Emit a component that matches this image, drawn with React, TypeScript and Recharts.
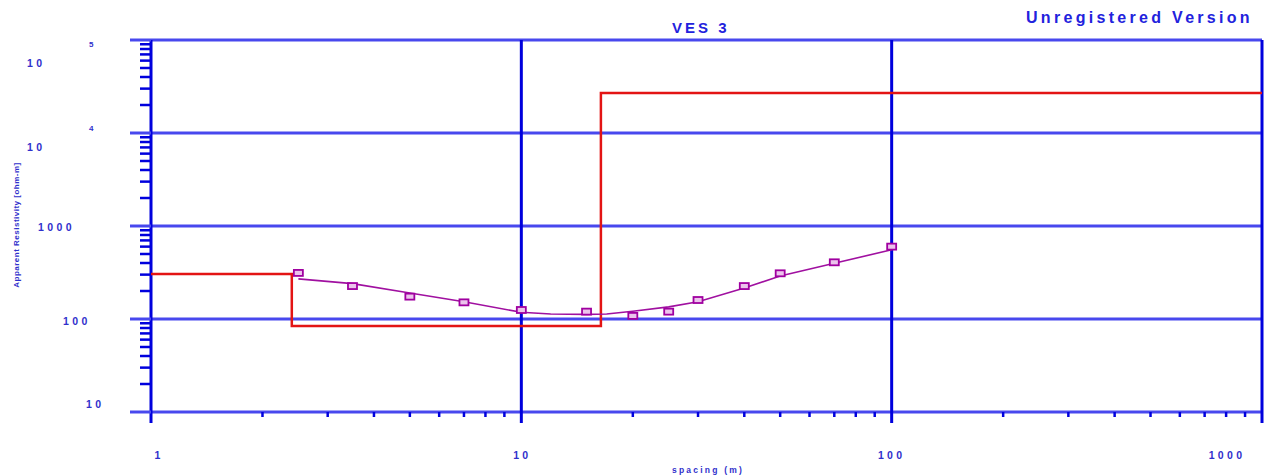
import React from 'react';
import { ComposedChart, Line, Scatter, XAxis, YAxis, ReferenceLine } from 'recharts';

// ---- data ----
const layerRho = [305, 84, 27000];
const layerBoundaries = [2.4, 16.4];

const fieldSpacing = [2.5, 3.5, 5, 7, 10, 15, 20, 25, 30, 40, 50, 70, 100];
const fieldRho = [313, 226, 174, 151, 125, 120, 108, 120, 160, 226, 310, 407, 600];

const calcSpacing = [2.5, 3.5, 5, 7, 10, 12, 15, 17, 20, 25, 30, 40, 50, 70, 100];
const calcRho = [270, 240, 190, 153, 118, 113, 112, 113, 121, 135, 153, 215, 290, 398, 555];

const xDecades = [1, 10, 100, 1000];
const xTickLabels = ['1', '10', '100', '1000'];
const yDecades = [10, 100, 1000, 10000, 100000];
const yTickBase = ['10', '100', '1000', '10', '10'];
const yTickExp = ['', '', '', '4', '5'];
const minorMultipliers = [2, 3, 4, 5, 6, 7, 8, 9];

const xRange = [1, 1000];
const yRange = [10, 100000];

// ---- derived tables ----
const modelPoints: { x: number; y: number }[] = [];
layerRho.forEach((rho, i) => {
  const from = i === 0 ? xRange[0] : layerBoundaries[i - 1];
  const to = i < layerBoundaries.length ? layerBoundaries[i] : xRange[1];
  modelPoints.push({ x: from, y: rho });
  modelPoints.push({ x: to, y: rho });
});
const fieldPoints = fieldSpacing.map((x, i) => ({ x, y: fieldRho[i] }));
const calcPoints = calcSpacing.map((x, i) => ({ x, y: calcRho[i] }));

const xTicks: number[] = [];
xDecades.forEach((d, i) => {
  xTicks.push(d);
  if (i < xDecades.length - 1) minorMultipliers.forEach((m) => xTicks.push(d * m));
});
const yTicks: number[] = [];
yDecades.forEach((d, i) => {
  yTicks.push(d);
  if (i < yDecades.length - 1) minorMultipliers.forEach((m) => yTicks.push(d * m));
});

// ---- styles ----
const AXIS_BLUE = '#0000dd';
const GRID_BLUE = '#4848ee';
const LABEL_BLUE = '#3030cc';
const FONT = 'Arial, "Liberation Sans", sans-serif';

const X_LABEL_SHIFT: Record<number, number> = { 1: 8, 10: 1, 100: 0, 1000: -35 };
const Y_LABEL_POS: Record<number, { x: number; dy: number; sx?: number; sdy?: number }> = {
  10: { x: 86, dy: -8 },
  100: { x: 63, dy: 2 },
  1000: { x: 38, dy: 1 },
  10000: { x: 27, dy: 14, sx: 89, sdy: -5 },
  100000: { x: 27, dy: 23, sx: 89, sdy: 4 },
};

function XTick(props: any) {
  const { x, y, payload } = props;
  const v = payload.value;
  const i = xDecades.indexOf(v);
  const major = i >= 0;
  return (
    <g>
      <line x1={x} x2={x} y1={y} y2={y + (major ? 11 : 5)} stroke={AXIS_BLUE} strokeWidth={major ? 3 : 2.5} />
      {major && (
        <text
          x={x + X_LABEL_SHIFT[v]}
          y={y + 47}
          textAnchor="middle"
          fontFamily={FONT}
          fontSize={10.5}
          fontWeight="bold"
          letterSpacing={3.3}
          fill={LABEL_BLUE}
        >
          {xTickLabels[i]}
        </text>
      )}
    </g>
  );
}

function YTick(props: any) {
  const { x, y, payload } = props;
  const v = payload.value;
  const i = yDecades.indexOf(v);
  const major = i >= 0;
  const pos = Y_LABEL_POS[v];
  return (
    <g>
      <line
        x1={x - (major ? 21 : 11)}
        x2={x}
        y1={y}
        y2={y}
        stroke={major ? GRID_BLUE : AXIS_BLUE}
        strokeWidth={major ? 3 : 2.5}
      />
      {major && (
        <text
          x={pos.x}
          y={y + pos.dy + 4}
          textAnchor="start"
          fontFamily={FONT}
          fontSize={10.5}
          fontWeight="bold"
          letterSpacing={3.4}
          fill={LABEL_BLUE}
        >
          {yTickBase[i]}
        </text>
      )}
      {major && yTickExp[i] && (
        <text
          x={pos.sx}
          y={y + (pos.sdy as number) + 3}
          textAnchor="start"
          fontFamily={FONT}
          fontSize={8}
          fontWeight="bold"
          fill={LABEL_BLUE}
        >
          {yTickExp[i]}
        </text>
      )}
    </g>
  );
}

function FieldMarker(props: any) {
  const { cx, cy } = props;
  if (cx == null || cy == null) return null;
  return <rect x={cx - 4.5} y={cy - 3} width={9} height={6} fill="#ecc4ec" stroke="#a000a0" strokeWidth={1.8} />;
}

export default function App() {
  return (
    <div style={{ position: 'absolute', left: 0, top: 0, width: 1272, height: 476, background: '#fff' }}>
      <ComposedChart width={1272} height={476} margin={{ top: 40, right: 10, bottom: 0, left: 0 }}>
        <XAxis
          dataKey="x"
          type="number"
          scale="log"
          domain={xRange}
          ticks={xTicks}
          interval={0}
          allowDataOverflow
          axisLine={false}
          tickLine={false}
          tickSize={0}
          tickMargin={0}
          height={64}
          tick={<XTick />}
          label={{
            content: () => (
              <text
                x={708}
                y={473}
                textAnchor="middle"
                fontFamily={FONT}
                fontSize={8.5}
                fontWeight="bold"
                letterSpacing={2.2}
                fill={LABEL_BLUE}
              >
                spacing (m)
              </text>
            ),
          }}
        />
        <YAxis
          dataKey="y"
          type="number"
          scale="log"
          domain={yRange}
          ticks={yTicks}
          interval={0}
          allowDataOverflow
          axisLine={false}
          tickLine={false}
          tickSize={0}
          tickMargin={0}
          width={151}
          tick={<YTick />}
          label={{
            content: () => (
              <text
                x={19}
                y={225}
                transform="rotate(-90 19 225)"
                textAnchor="middle"
                fontFamily={FONT}
                fontSize={8}
                fontWeight="bold"
                letterSpacing={0.5}
                fill={LABEL_BLUE}
              >
                Apparent Resistivity [ohm-m]
              </text>
            ),
          }}
        />
        {yDecades.map((v) => (
          <ReferenceLine key={'h' + v} y={v} stroke={GRID_BLUE} strokeWidth={3} />
        ))}
        {xDecades.map((v) => (
          <ReferenceLine key={'v' + v} x={v} stroke={AXIS_BLUE} strokeWidth={3} />
        ))}
        <Line
          data={modelPoints}
          dataKey="y"
          type="linear"
          stroke="#e31414"
          strokeWidth={2.5}
          dot={false}
          isAnimationActive={false}
        />
        <Line
          data={calcPoints}
          dataKey="y"
          type="linear"
          stroke="#a010a0"
          strokeWidth={1.6}
          dot={false}
          isAnimationActive={false}
        />
        <Scatter data={fieldPoints} dataKey="y" shape={<FieldMarker />} isAnimationActive={false} />
      </ComposedChart>
      <div
        style={{
          position: 'absolute',
          left: 672,
          top: 19,
          fontFamily: FONT,
          fontSize: 15,
          fontWeight: 'bold',
          letterSpacing: 3,
          color: '#2222dd',
          lineHeight: '18px',
          whiteSpace: 'nowrap',
        }}
      >
        VES 3
      </div>
      <div
        style={{
          position: 'absolute',
          left: 1026,
          top: 9,
          fontFamily: FONT,
          fontSize: 16,
          fontWeight: 'bold',
          letterSpacing: 3.3,
          color: '#2222dd',
          lineHeight: '18px',
          whiteSpace: 'nowrap',
        }}
      >
        Unregistered Version
      </div>
    </div>
  );
}
